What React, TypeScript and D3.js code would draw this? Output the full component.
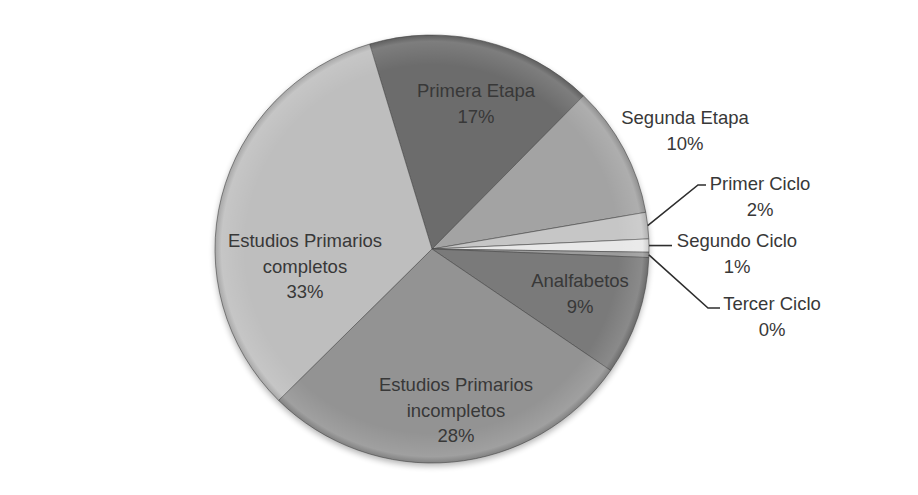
import React from "react";
import * as d3 from "d3";

const categories = [
  "Primera Etapa",
  "Segunda Etapa",
  "Primer Ciclo",
  "Segundo Ciclo",
  "Tercer Ciclo",
  "Analfabetos",
  "Estudios Primarios incompletos",
  "Estudios Primarios completos",
];
const values = [17, 10, 2, 1, 0.4, 9, 28, 33];
const percentLabels = ["17%", "10%", "2%", "1%", "0%", "9%", "28%", "33%"];
const labelLines = [
  ["Primera Etapa"],
  ["Segunda Etapa"],
  ["Primer Ciclo"],
  ["Segundo Ciclo"],
  ["Tercer Ciclo"],
  ["Analfabetos"],
  ["Estudios Primarios", "incompletos"],
  ["Estudios Primarios", "completos"],
];

// styling / layout
const W = 918;
const H = 495;
const CX = 432;
const CY = 249;
const RX = 217;
const RY = 214;
const START_DEG = -16.7;
const colors = ["#6c6c6c", "#a3a3a3", "#c6c6c6", "#e8e8e8", "#9c9c9c", "#7a7a7a", "#939393", "#bebebe"];
const labelPos: Record<string, { x: number; y: number }> = {
  "Primera Etapa": { x: 476, y: 90 },
  "Segunda Etapa": { x: 685, y: 117 },
  "Primer Ciclo": { x: 760, y: 183 },
  "Segundo Ciclo": { x: 737, y: 240 },
  "Tercer Ciclo": { x: 772, y: 303 },
  Analfabetos: { x: 580, y: 280 },
  "Estudios Primarios incompletos": { x: 456, y: 384 },
  "Estudios Primarios completos": { x: 305, y: 240 },
};
const leaderElbows: Record<string, [number, number][]> = {
  "Primer Ciclo": [[698, 185], [706, 185]],
  "Segundo Ciclo": [[672, 0]],
  "Tercer Ciclo": [[708, 308], [720, 308]],
};
const LINE_GAP = 25.5;

export default function App() {
  const pie = d3
    .pie<number>()
    .sort(null)
    .value((d) => d)
    .startAngle((START_DEG * Math.PI) / 180)
    .endAngle((START_DEG * Math.PI) / 180 + Math.PI * 2);
  const arcs = pie(values);
  const arc = d3.arc<d3.PieArcDatum<number>>().innerRadius(0).outerRadius(RX);
  const ky = RY / RX;

  return (
    <svg
      width={W}
      height={H}
      style={{ position: "absolute", left: 0, top: 0, background: "#fff" }}
      fontFamily="'Liberation Sans', Arial, sans-serif"
    >
      <defs>
        <filter id="blur" x="-20%" y="-20%" width="140%" height="140%">
          <feGaussianBlur stdDeviation="3" />
        </filter>
        <radialGradient id="shade" cx="0" cy="0" r={RX} gradientUnits="userSpaceOnUse">
          <stop offset="0.86" stopColor="#fff" stopOpacity="0" />
          <stop offset="0.97" stopColor="#fff" stopOpacity="0.12" />
          <stop offset="1" stopColor="#000" stopOpacity="0.12" />
        </radialGradient>
      </defs>
      <rect width={W} height={H} fill="#fff" />
      <ellipse cx={CX} cy={CY + 3} rx={RX} ry={RY} fill="#000" opacity={0.3} filter="url(#blur)" />
      <g transform={`translate(${CX},${CY}) scale(1,${ky})`}>
        {arcs.map((a, i) => (
          <path key={i} d={arc(a) || ""} fill={colors[i]} stroke="#4a4a4a" strokeOpacity={0.6} strokeWidth={1} />
        ))}
        {arcs.map((a, i) => (
          <path key={"s" + i} d={arc(a) || ""} fill="url(#shade)" />
        ))}
      </g>
      <g>
        {arcs.map((a, i) => {
          const name = categories[i];
          const elb = leaderElbows[name];
          if (!elb) return null;
          const mid = (a.startAngle + a.endAngle) / 2;
          const ex = CX + Math.sin(mid) * RX;
          const ey = CY - Math.cos(mid) * RY;
          const pts = [[ex, ey], ...elb.map(([x, y]) => [x, y === 0 ? ey : y])];
          return (
            <polyline
              key={"l" + i}
              points={pts.map((p) => p.join(",")).join(" ")}
              fill="none"
              stroke="#2e2e2e"
              strokeWidth={1.6}
            />
          );
        })}
      </g>
      <g fill="#383838" fontSize={18.5} textAnchor="middle" dominantBaseline="central">
        {categories.map((name, i) => {
          const p = labelPos[name];
          const lines = [...labelLines[i], percentLabels[i]];
          return (
            <text key={"t" + i}>
              {lines.map((ln, j) => (
                <tspan key={j} x={p.x} y={p.y + j * LINE_GAP}>
                  {ln}
                </tspan>
              ))}
            </text>
          );
        })}
      </g>
    </svg>
  );
}
